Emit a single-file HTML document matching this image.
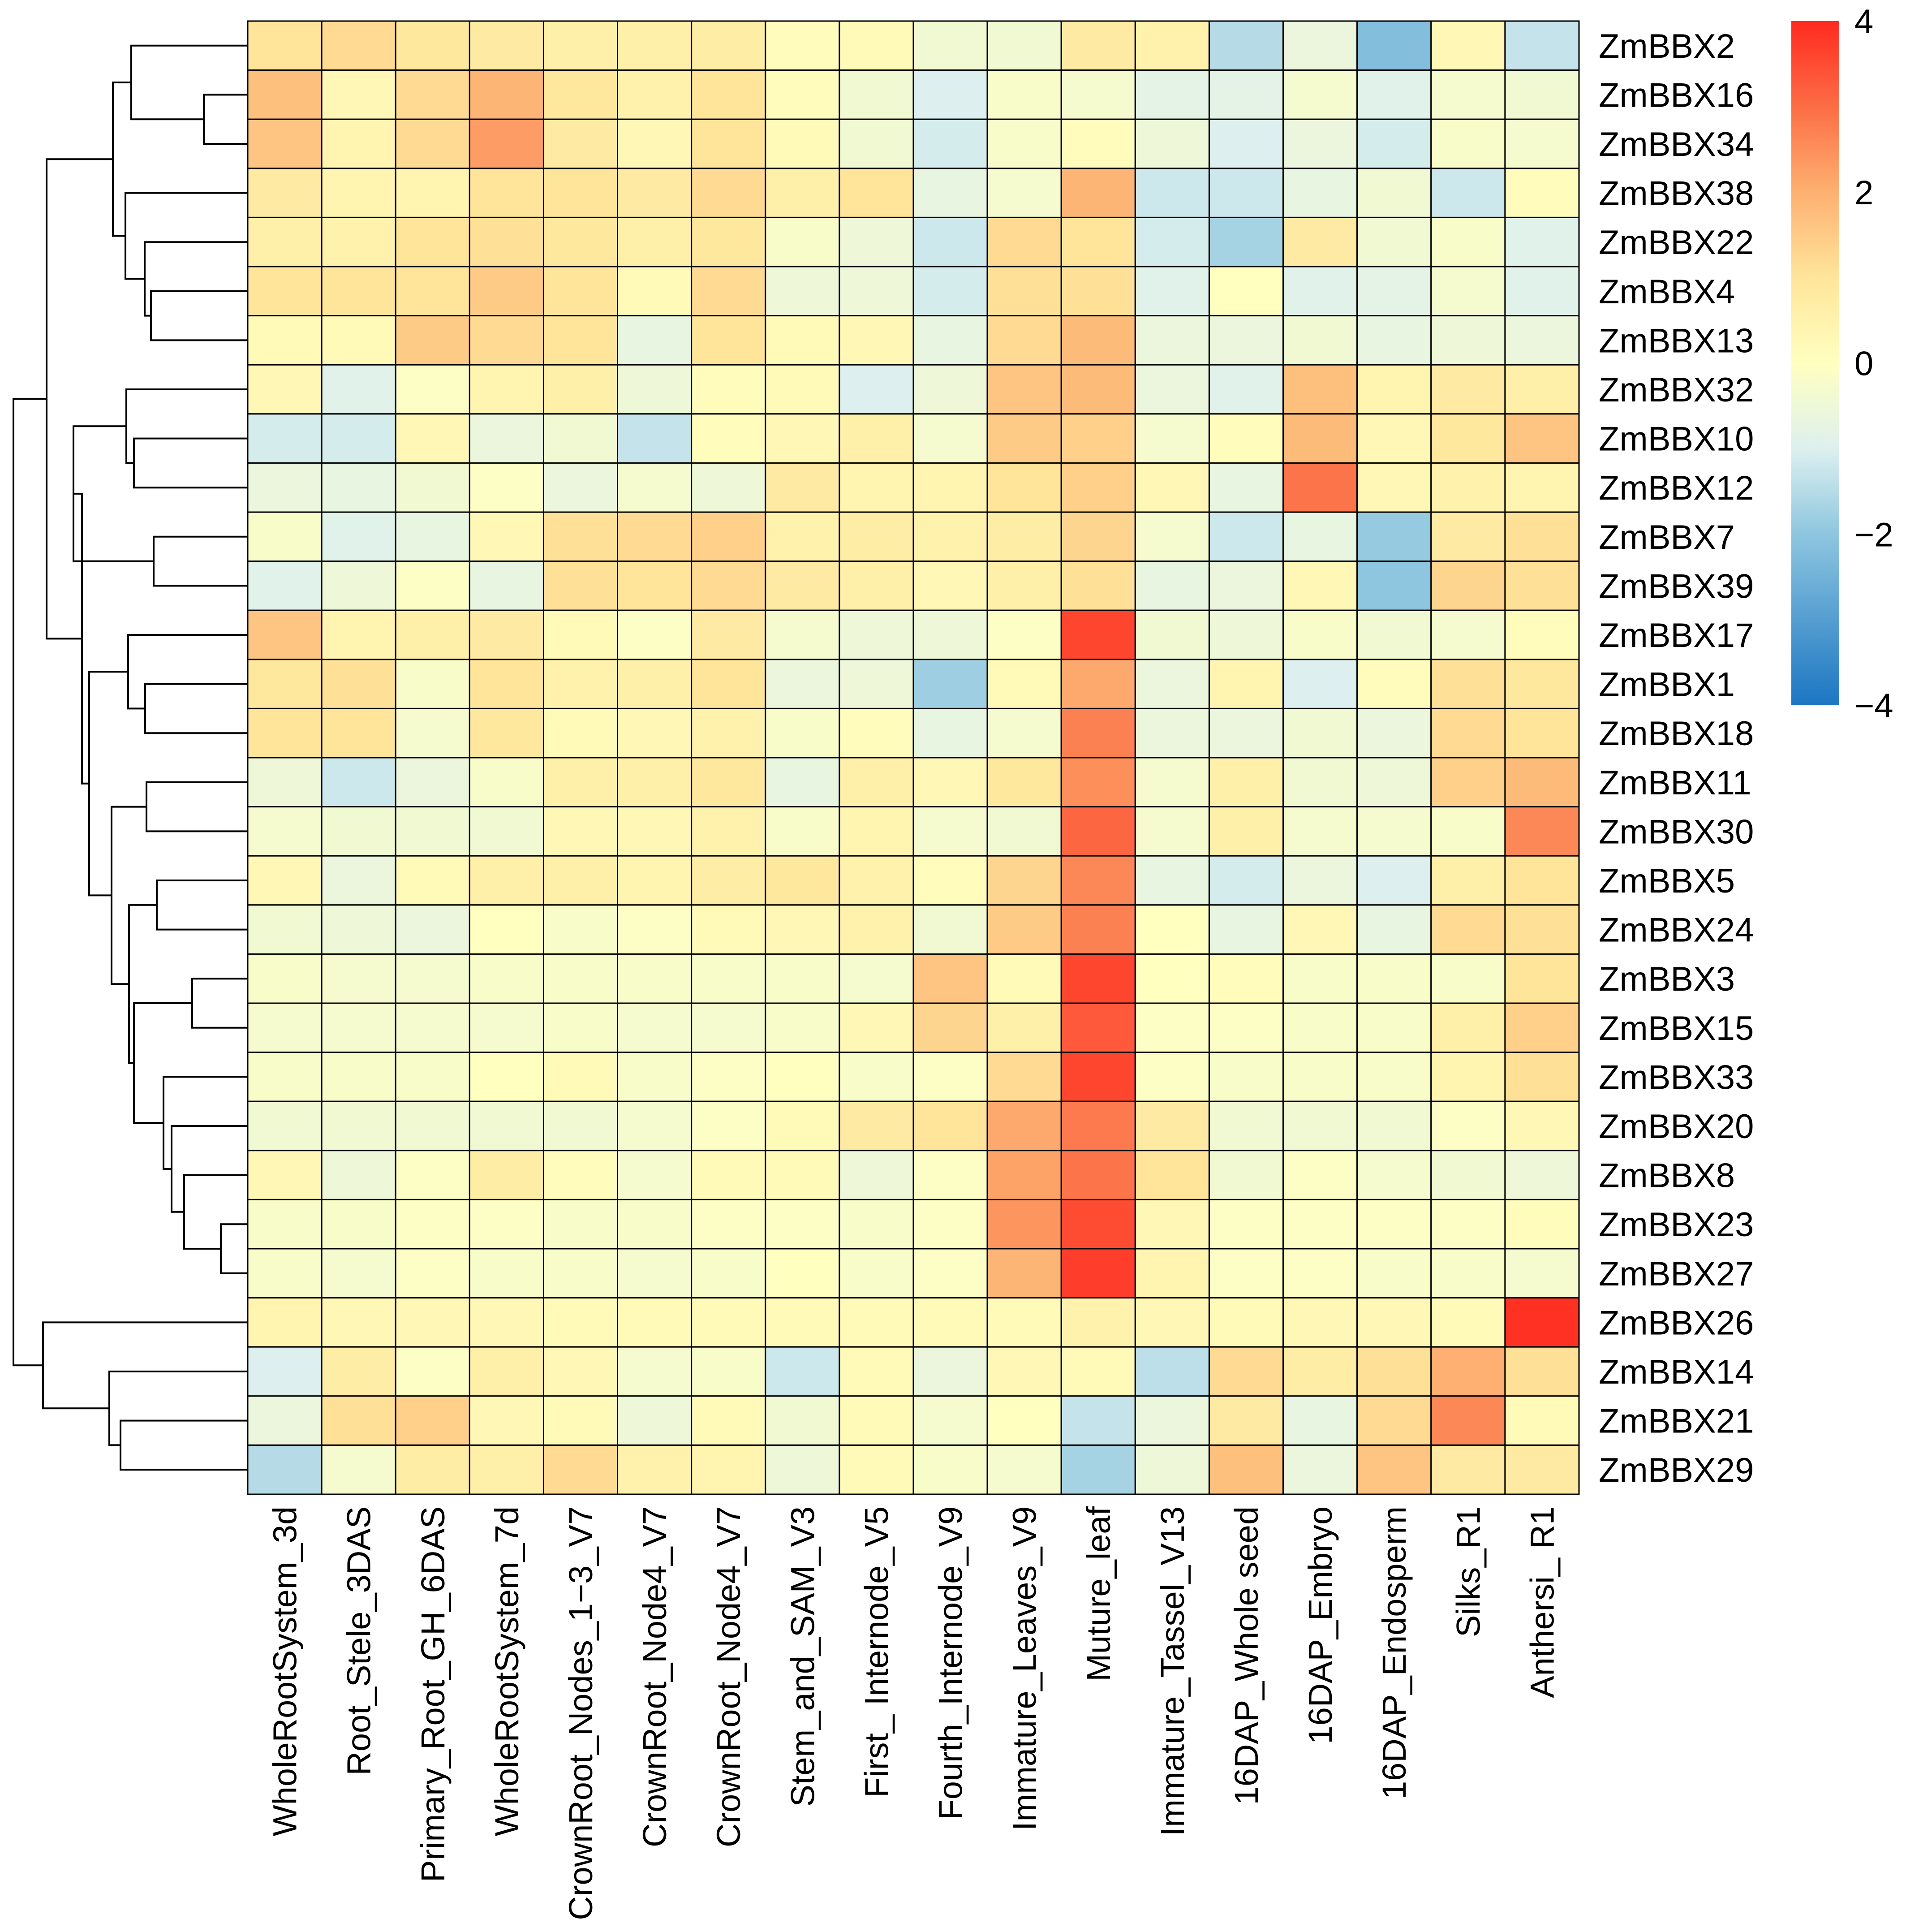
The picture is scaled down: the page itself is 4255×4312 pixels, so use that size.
<!DOCTYPE html>
<html><head><meta charset="utf-8"><style>
html,body{margin:0;padding:0;background:#fff;}
svg{display:block;font-family:"Liberation Sans",Arial,sans-serif;}
</style></head><body>
<svg id="chart" width="4255" height="4312" viewBox="0 0 4255 4312" xmlns="http://www.w3.org/2000/svg"></svg>
<script>
const genes = ["ZmBBX2","ZmBBX16","ZmBBX34","ZmBBX38","ZmBBX22","ZmBBX4","ZmBBX13","ZmBBX32","ZmBBX10","ZmBBX12","ZmBBX7","ZmBBX39","ZmBBX17","ZmBBX1","ZmBBX18","ZmBBX11","ZmBBX30","ZmBBX5","ZmBBX24","ZmBBX3","ZmBBX15","ZmBBX33","ZmBBX20","ZmBBX8","ZmBBX23","ZmBBX27","ZmBBX26","ZmBBX14","ZmBBX21","ZmBBX29"];
const tissues = ["WholeRootSystem_3d","Root_Stele_3DAS","Primary_Root_GH_6DAS","WholeRootSystem_7d","CrownRoot_Nodes_1\u22123_V7","CrownRoot_Node4_V7","CrownRoot_Node4_V7","Stem_and_SAM_V3","First_ Internode_V5","Fourth_Internode_V9","Immature_Leaves_V9","Muture_leaf","Immature_Tassel_V13","16DAP_Whole seed","16DAP_Embryo","16DAP_Endosperm","Silks_R1","Anthersi_ R1"];
const values = [
[1.0,1.2,0.9,0.8,0.6,0.6,0.7,0.1,0.2,-0.4,-0.4,0.8,0.5,-1.5,-0.6,-2.2,0.3,-1.3],
[1.7,0.3,1.2,1.9,0.9,0.5,1.0,0.1,-0.4,-1.0,-0.2,-0.3,-0.8,-0.8,-0.3,-0.9,-0.3,-0.4],
[1.6,0.4,1.2,2.3,0.8,0.3,1.0,0.2,-0.4,-1.1,-0.2,0.1,-0.5,-1.0,-0.6,-1.1,-0.2,-0.3],
[0.8,0.4,0.4,1.0,1.0,0.8,1.2,0.6,1.0,-0.7,-0.3,1.9,-1.2,-1.2,-0.7,-0.4,-1.2,0.1],
[0.6,0.5,1.0,1.1,0.9,0.6,0.9,-0.2,-0.5,-1.2,1.2,1.0,-1.1,-1.7,0.8,-0.4,-0.2,-0.9],
[1.0,1.0,1.0,1.5,1.0,0.2,1.2,-0.5,-0.5,-1.1,1.1,1.1,-0.9,0.0,-0.9,-0.8,-0.3,-0.9],
[0.2,0.2,1.5,1.2,1.0,-0.7,1.0,0.2,0.3,-0.7,1.2,1.8,-0.6,-0.6,-0.4,-0.7,-0.5,-0.6],
[0.3,-0.9,-0.1,0.4,0.6,-0.5,0.1,0.2,-1.0,-0.5,1.6,1.8,-0.6,-0.9,1.7,0.4,0.8,0.6],
[-1.1,-1.1,0.3,-0.6,-0.4,-1.3,0.1,0.3,0.6,-0.3,1.5,1.4,-0.3,0.1,1.8,0.3,0.9,1.6],
[-0.6,-0.7,-0.4,-0.1,-0.6,-0.3,-0.5,0.8,0.4,0.4,1.0,1.4,0.3,-0.7,2.9,0.3,0.5,0.4],
[-0.2,-0.9,-0.7,0.3,1.1,1.2,1.4,0.5,0.7,0.5,0.7,1.3,-0.3,-1.2,-0.7,-1.9,0.8,1.1],
[-0.9,-0.5,-0.1,-0.7,1.1,1.0,1.2,0.8,0.6,0.3,0.6,1.1,-0.7,-0.6,0.3,-2.0,1.3,1.1],
[1.6,0.4,0.6,0.8,0.2,-0.1,0.8,-0.3,-0.5,-0.5,-0.1,3.6,-0.4,-0.5,-0.2,-0.4,-0.3,0.1],
[0.9,1.1,-0.2,1.0,0.5,0.6,1.0,-0.6,-0.5,-1.8,0.2,2.1,-0.6,0.4,-1.0,0.1,1.1,0.9],
[1.0,1.0,-0.3,0.9,0.2,0.3,0.5,-0.2,0.1,-0.7,-0.3,2.7,-0.6,-0.6,-0.4,-0.6,1.2,1.0],
[-0.5,-1.2,-0.6,-0.2,0.6,0.6,0.9,-0.7,0.6,0.3,0.9,2.5,-0.3,0.6,-0.4,-0.5,1.4,1.8],
[-0.3,-0.4,-0.4,-0.4,0.3,0.3,0.5,-0.2,0.4,-0.3,-0.4,3.1,-0.3,0.6,-0.3,-0.3,-0.2,2.6],
[0.3,-0.6,0.2,0.6,0.6,0.4,0.7,0.9,0.5,0.1,1.3,2.6,-0.7,-1.1,-0.6,-1.0,0.6,1.0],
[-0.4,-0.5,-0.6,0.0,-0.2,-0.1,0.2,0.3,0.5,-0.4,1.5,2.7,0.0,-0.7,0.3,-0.7,1.2,1.1],
[-0.2,-0.3,-0.3,-0.2,-0.2,-0.2,-0.2,-0.2,-0.3,1.6,0.2,3.6,0.0,0.1,-0.2,-0.2,-0.2,1.0],
[-0.3,-0.3,-0.3,-0.3,-0.2,-0.3,-0.3,-0.2,0.3,1.3,0.6,3.3,-0.1,-0.1,-0.2,-0.2,0.6,1.4],
[-0.2,-0.2,-0.2,0.0,0.2,-0.2,-0.1,0.0,-0.2,-0.1,1.2,3.6,-0.1,-0.2,-0.2,-0.2,0.4,1.1],
[-0.4,-0.4,-0.4,-0.4,-0.4,-0.3,-0.1,0.2,0.8,1.0,2.1,2.8,0.8,-0.4,-0.4,-0.4,-0.1,0.3],
[0.3,-0.5,-0.1,0.7,0.1,-0.3,0.2,0.2,-0.5,-0.1,2.2,2.9,1.0,-0.4,-0.1,-0.3,-0.4,-0.5],
[-0.2,-0.2,-0.1,-0.1,-0.2,-0.2,-0.1,-0.1,-0.2,-0.1,2.4,3.5,0.3,-0.1,-0.1,-0.1,-0.1,0.1],
[-0.2,-0.3,-0.1,-0.2,-0.2,-0.3,-0.2,0.0,-0.2,-0.1,1.9,3.7,0.4,-0.1,-0.1,-0.2,-0.2,-0.3],
[0.4,0.3,0.3,0.3,0.2,0.2,0.2,0.2,0.2,0.2,0.2,0.5,0.3,0.2,0.3,0.3,0.2,3.9],
[-1.0,0.7,-0.1,0.6,0.3,-0.3,-0.2,-1.2,0.2,-0.6,0.3,0.2,-1.4,1.2,0.7,1.1,2.0,1.1],
[-0.6,1.1,1.4,0.3,0.2,-0.5,0.2,-0.4,0.2,-0.3,0.0,-1.3,-0.6,0.8,-0.7,1.2,2.6,0.2],
[-1.5,-0.3,0.7,0.6,1.2,0.5,0.4,-0.5,0.2,-0.2,-0.3,-1.7,-0.5,1.7,-0.6,1.6,0.8,0.8]
];
const colorTicks = [4,2,0,-2,-4];
const merges = [
[1,2,455],[0,"n0",293],[5,6,337],[4,"n2",323],[3,"n3",280],["n1","n4",252],
[8,9,299],[7,"n6",282],[10,11,343],["n7","n8",164],
[13,14,324],[12,"n10",286],[15,16,327],[17,18,350],[19,20,429],[24,25,493],
[23,"n15",411],[22,"n16",383],[21,"n17",365],["n14","n18",299],["n13","n19",288],
["n12","n20",249],["n11","n21",199],["n9","n22",183],["n5","n23",104],
[28,29,269],[27,"n25",244],[26,"n26",96],["n24","n27",30]
];

const NS="http://www.w3.org/2000/svg";
const svg=document.getElementById('chart');
const L=553,R=3525,T=47,B=3335;
const cw=(R-L)/tissues.length, rh=(B-T)/genes.length;
const xCol=i=>L+i*cw, yRow=i=>T+i*rh;
const stops=[[-4,[27,118,194]],[-2,[142,198,223]],[-1,[221,240,239]],[0,[255,255,192]],[1,[254,229,154]],[2,[253,176,113]],[3,[252,109,69]],[4,[255,42,31]]];
function col(v){v=Math.max(-4,Math.min(4,v));for(let k=0;k<stops.length-1;k++){const a=stops[k],b=stops[k+1];if(v<=b[0]){const t=(v-a[0])/(b[0]-a[0]);const c=a[1].map((x,j)=>Math.round(x+(b[1][j]-x)*t));return `rgb(${c.join(',')})`;}}return 'rgb(255,42,31)';}
function mk(tag,attrs){const e=document.createElementNS(NS,tag);for(const k in attrs)e.setAttribute(k,attrs[k]);svg.appendChild(e);return e;}

for(let r=0;r<genes.length;r++){for(let c=0;c<tissues.length;c++){
 const e=mk('rect',{x:xCol(c),y:yRow(r),width:cw,height:rh,fill:col(values[r][c]),stroke:'#000','stroke-width':3});
 
 
}}
genes.forEach((g,r)=>{const t=mk('text',{x:3569,y:yRow(r)+rh/2+27,'font-size':76,fill:'#000'});t.textContent=g;
 
 });
tissues.forEach((s,c)=>{const cx=xCol(c)+cw/2+26;const t=mk('text',{x:cx,y:3362,'font-size':74,fill:'#000','text-anchor':'end',transform:`rotate(-90 ${cx} 3362)`});t.textContent=s;
 
 });
const pos={};
function getP(k){return typeof k==='number'?{x:L,y:yRow(k)+rh/2}:pos[k];}
merges.forEach((m,i)=>{const a=getP(m[0]),b=getP(m[1]),x=m[2];
 const p=mk('path',{d:`M${a.x},${a.y}H${x}V${b.y}H${b.x}`,fill:'none',stroke:'#000','stroke-width':4});
 
 
 pos['n'+i]={x:x,y:(a.y+b.y)/2};});
const defs=mk('defs',{});const lg=document.createElementNS(NS,'linearGradient');lg.setAttribute('id','cb');lg.setAttribute('x1',0);lg.setAttribute('y1',1);lg.setAttribute('x2',0);lg.setAttribute('y2',0);defs.appendChild(lg);
for(let k=0;k<=16;k++){const v=-4+k*0.5;const s=document.createElementNS(NS,'stop');s.setAttribute('offset',k/16);s.setAttribute('stop-color',col(v));lg.appendChild(s);}
const CBT=47,CBB=1574,cbY=v=>CBB-(v+4)/8*(CBB-CBT);
const cb=mk('rect',{x:3999,y:CBT,width:107,height:CBB-CBT,fill:'url(#cb)'});


colorTicks.forEach(v=>{const t=mk('text',{x:4140,y:cbY(v)+27,'font-size':76,fill:'#000'});t.textContent=(v<0?'\u2212':'')+Math.abs(v);
 
 });
</script>
</body></html>
